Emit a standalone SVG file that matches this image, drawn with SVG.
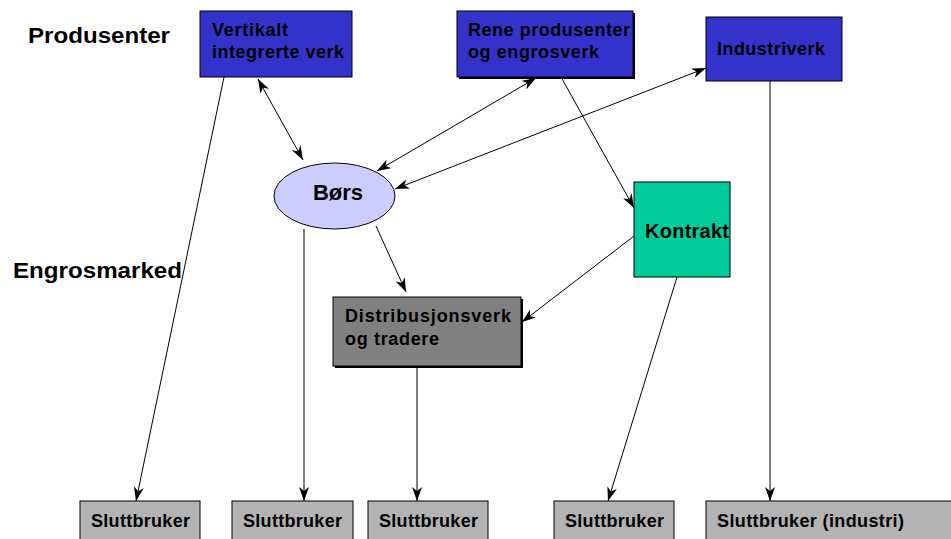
<svg xmlns="http://www.w3.org/2000/svg" width="951" height="539" viewBox="0 0 951 539">
<defs>
<marker id="ah" viewBox="0 0 14 10" refX="14" refY="5" markerWidth="14" markerHeight="10" markerUnits="userSpaceOnUse" orient="auto-start-reverse">
<path d="M0,0 L14,5 L0,10 L4,5 Z" fill="#000"/>
</marker>
<style>
text{font-family:"Liberation Sans",Arial,sans-serif;font-weight:bold;fill:#000}
.t{font-size:18px}
.b{stroke:#000;stroke-width:1}
.c{stroke:#000;stroke-width:1;fill:none;marker-end:url(#ah)}
.d{marker-start:url(#ah)}
.blue{fill:#3333cc}
.grey{fill:#b3b3b3}
</style>
</defs>
<rect width="951" height="539" fill="#fff"/>
<text x="28" y="43" font-size="22" textLength="142" lengthAdjust="spacingAndGlyphs">Produsenter</text>
<text x="13" y="278" font-size="22" textLength="169" lengthAdjust="spacingAndGlyphs">Engrosmarked</text>
<g id="connectors">
<line class="c" x1="224" y1="77" x2="136" y2="501"/>
<line class="c d" x1="258" y1="79" x2="303" y2="160"/>
<line class="c d" x1="536" y1="78" x2="377" y2="171"/>
<line class="c d" x1="706" y1="68" x2="395" y2="189"/>
<line class="c" x1="561" y1="77" x2="634" y2="208"/>
<line class="c" x1="638" y1="233" x2="522" y2="322"/>
<line class="c" x1="376" y1="226" x2="406" y2="292"/>
<line class="c" x1="304" y1="229" x2="304" y2="501"/>
<line class="c" x1="417" y1="367" x2="417" y2="501"/>
<line class="c" x1="677" y1="277" x2="608" y2="501"/>
<line class="c" x1="770" y1="81" x2="770" y2="501"/>
</g>
<g id="vertikalt">
<rect class="b blue" x="200" y="11" width="152" height="66"/>
<text class="t" x="212" y="36" textLength="76" lengthAdjust="spacing">Vertikalt</text>
<text class="t" x="212" y="58" textLength="132" lengthAdjust="spacing">integrerte verk</text>
</g>
<g id="rene">
<rect x="459" y="13" width="176" height="66" fill="#000"/>
<rect class="b blue" x="457" y="11" width="176" height="66"/>
<text class="t" x="468" y="36" textLength="162" lengthAdjust="spacing">Rene produsenter</text>
<text class="t" x="468" y="58" textLength="131" lengthAdjust="spacing">og engrosverk</text>
</g>
<g id="industriverk">
<rect class="b blue" x="706" y="17" width="136" height="64"/>
<text class="t" x="717" y="55" textLength="108" lengthAdjust="spacing">Industriverk</text>
</g>
<g id="bors">
<ellipse class="b" cx="334.5" cy="196" rx="60.5" ry="33" fill="#ccccff"/>
<text x="338" y="200" font-size="22" text-anchor="middle">Børs</text>
</g>
<g id="kontrakt">
<rect class="b" x="634" y="182" width="96" height="95" fill="#00cc99"/>
<text x="645" y="238" font-size="20" textLength="84" lengthAdjust="spacing">Kontrakt</text>
</g>
<g id="distribusjonsverk">
<rect x="335" y="299" width="188" height="69" fill="#000"/>
<rect class="b" x="333" y="297" width="188" height="69" fill="#808080"/>
<text class="t" x="345" y="322" textLength="166" lengthAdjust="spacing">Distribusjonsverk</text>
<text class="t" x="345" y="345" textLength="94" lengthAdjust="spacing">og tradere</text>
</g>
<g id="slutt1">
<rect class="b grey" x="80" y="501" width="120" height="45"/>
<text class="t" x="91" y="527" textLength="99" lengthAdjust="spacing">Sluttbruker</text>
</g>
<g id="slutt2">
<rect class="b grey" x="232" y="501" width="121" height="45"/>
<text class="t" x="243" y="527" textLength="99" lengthAdjust="spacing">Sluttbruker</text>
</g>
<g id="slutt3">
<rect class="b grey" x="368" y="501" width="120" height="45"/>
<text class="t" x="379" y="527" textLength="99" lengthAdjust="spacing">Sluttbruker</text>
</g>
<g id="slutt4">
<rect class="b grey" x="554" y="501" width="120" height="45"/>
<text class="t" x="565" y="527" textLength="99" lengthAdjust="spacing">Sluttbruker</text>
</g>
<g id="slutt5">
<rect class="b grey" x="706" y="501" width="260" height="45"/>
<text class="t" x="717" y="527" textLength="187" lengthAdjust="spacing">Sluttbruker (industri)</text>
</g>
</svg>
